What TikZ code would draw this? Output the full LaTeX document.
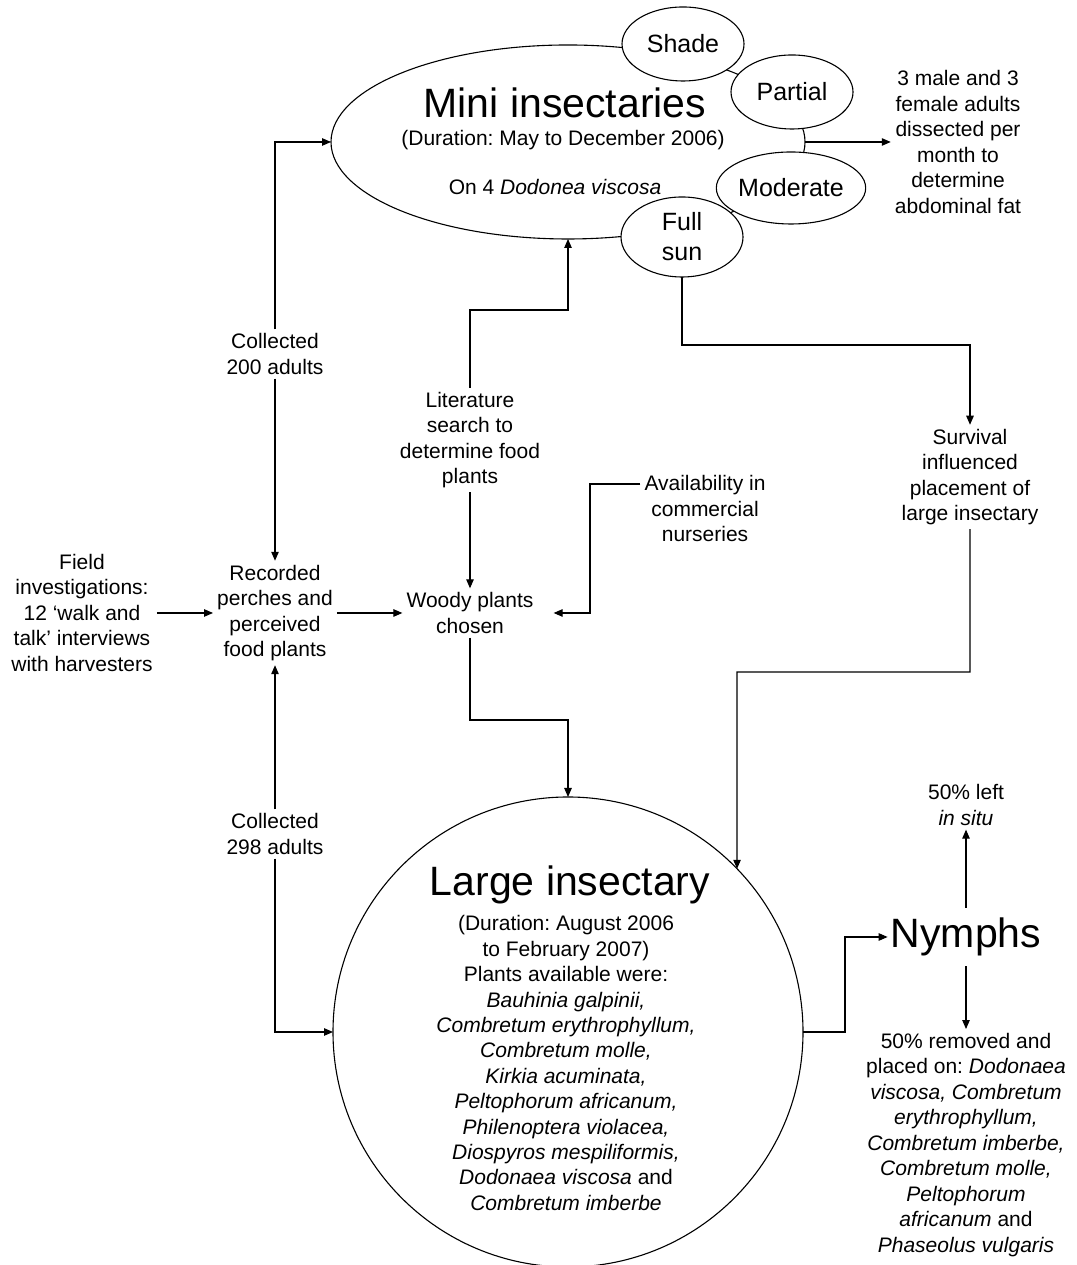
\documentclass[tikz,border=0pt]{standalone}
\usepackage{fontspec}
\setmainfont{Liberation Sans}
\usetikzlibrary{arrows.meta,shapes.geometric,positioning}
\frenchspacing
\tikzset{
  >={Triangle[length=9pt,width=7.5pt]},
  flow/.style={->, line width=1.1pt, draw=black},
  txt/.style={align=center, font=\fontsize{21}{25.5}\selectfont, inner sep=4pt},
  bigtxt/.style={font=\fontsize{41}{48}\selectfont, inner sep=3pt},
  bigshape/.style={draw, line width=1.1pt, inner sep=0pt, outer sep=0pt},
  spot/.style={
    ellipse,
    draw,
    line width=1.1pt,
    fill=white,
    align=center,
    inner sep=0pt,
    outer sep=0pt,
    font=\fontsize{25}{30}\selectfont
  }
}

\begin{document}
\begin{tikzpicture}[x=1pt,y=1pt]
\useasboundingbox (0,0) rectangle (1076,1265);
% mini insectaries
\node[bigshape,ellipse,minimum width=474pt,minimum height=194pt] (mini) at (568,1123) {};
\node[bigtxt] (minititle) at (565,1162) {Mini insectaries};
\node[txt] (minidur) at (563,1125) {(Duration: May to December 2006)};
\node[txt] (minion) at (555,1078) {On 4 \textit{Dodonea viscosa}};
\node[spot,minimum width=122pt,minimum height=74pt] (shade) at (683,1221) {Shade};
\node[spot,minimum width=122pt,minimum height=74pt] (partial) at (792,1173) {Partial};
\node[spot,minimum width=122pt,minimum height=72pt] (moderate) at (791,1077) {Moderate};
\node[spot,minimum width=122pt,minimum height=80pt] (fullsun) at (682,1028) {Full\\sun};
\node[txt] (fat) at (958,1123) {3 male and 3\\female adults\\dissected per\\month to\\determine\\abdominal fat};

% middle row
\node[txt] (field) at (82,652) {Field\\investigations:\\12 ‘walk and\\talk’ interviews\\with harvesters};
\node[txt] (rec) at (275,652) {Recorded\\perches and\\perceived\\food plants};
\node[txt] (woody) at (470,652) {Woody plants\\chosen};
\node[txt] (avail) at (705,756) {Availability in\\commercial\\nurseries};
\node[txt] (lit) at (470,825) {Literature\\search to\\determine food\\plants};
\node[txt] (surv) at (970,788) {Survival\\influenced\\placement of\\large insectary};
\node[txt,fill=white] (col1) at (275,911) {Collected\\200 adults};
\node[txt,fill=white] (col2) at (275,431) {Collected\\298 adults};

% large insectary
\node[bigshape,circle,minimum size=470pt] (large) at (568,233) {};
\node[bigtxt] (largetitle) at (570,380) {Large insectary};
\node[txt,font=\fontsize{21}{25.4}\selectfont] (plants) at (566,202) {(Duration: August 2006\\to February 2007)\\Plants available were:\\\textit{Bauhinia galpinii,}\\\textit{Combretum erythrophyllum,}\\\textit{Combretum molle,}\\\textit{Kirkia acuminata,}\\\textit{Peltophorum africanum,}\\\textit{Philenoptera violacea,}\\\textit{Diospyros mespiliformis,}\\\textit{Dodonaea viscosa} and\\\textit{Combretum imberbe}};

% nymphs
\node[bigtxt,inner ysep=10pt] (nymph) at (966,328) {Nymphs};
\node[txt] (insitu) at (966,460) {50\% left\\\textit{in situ}};
\node[txt] (removed) at (966,120) {50\% removed and\\placed on: \textit{Dodonaea}\\\textit{viscosa, Combretum}\\\textit{erythrophyllum,}\\\textit{Combretum imberbe,}\\\textit{Combretum molle,}\\\textit{Peltophorum}\\\textit{africanum} and\\\textit{Phaseolus vulgaris}};

% bends
\coordinate (litbend) at (470,955);
\coordinate (availbend) at (590,781);
\coordinate (survbend) at (970,920);
\coordinate (largebend) at (737,593);
\coordinate (woodybend) at (470,545);
\coordinate (nymphbend) at (845,233);

% connectors
\draw[flow] (mini.east) -- (mini.east -| fat.west);
\draw[flow] (col1) |- (mini.west);
\draw[flow] (col1) -- (rec);
\draw[flow] (col2) -- (rec);
\draw[flow] (col2) |- (large.west);
\draw[flow] (field) -- (rec);
\draw[flow] (rec) -- (woody);
\draw[flow] (lit) -- (woody);
\draw[flow] (lit) -- (litbend) -| (mini.south);
\draw[flow] (avail.west |- availbend) -- (availbend) |- ([xshift=16pt]woody.east);
\draw[flow] (fullsun.south) |- (survbend) -- (surv.north);
\draw[flow] (surv.south) |- (largebend) -- (large.44);
\draw[flow] (woody) -- (woodybend) -| (large.north);
\draw[flow] (large.east) -- (nymphbend) |- (nymph.west);
\draw[flow] (nymph.north) -- (insitu.south);
\draw[flow] (nymph.south) -- (removed.north);
\end{tikzpicture}
\end{document}
